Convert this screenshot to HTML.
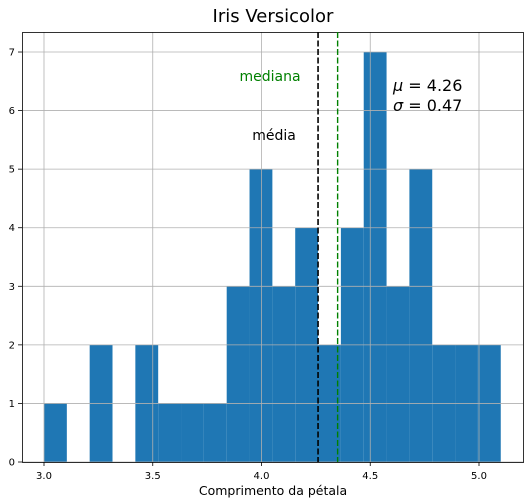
<!DOCTYPE html>
<html><head><meta charset="utf-8">
<style>
body{margin:0;background:#fff;}
svg{display:block;font-family:"DejaVu Sans","Liberation Sans",sans-serif;}
</style></head>
<body>
<svg id="chart" width="531" height="504" viewBox="0 0 531 504">
<text x="273" y="22" font-size="18" text-anchor="middle">Iris Versicolor</text>
<g id="bars"></g>
<g id="grid"></g>
<g id="ticks"></g>
<rect x="22.5" y="32.5" width="501" height="430" fill="none" stroke="#000" stroke-width="0.8"/>
<text x="273" y="495" font-size="12.5" text-anchor="middle">Comprimento da pétala</text>
<text x="270" y="81" font-size="14" fill="green" text-anchor="middle">mediana</text>
<text x="274" y="140" font-size="14" text-anchor="middle">média</text>
<text x="393" y="91" font-size="16"><tspan font-style="italic">μ</tspan> = 4.26</text>
<text x="393" y="111" font-size="16"><tspan font-style="italic">σ</tspan> = 0.47</text>
</svg>
<script>
const binStart = 3.0;
const binEnd = 5.1;
const counts = [1,0,2,0,2,1,1,1,3,5,3,4,2,4,7,3,5,2,2,2];
const xTicks = [3.0,3.5,4.0,4.5,5.0];
const xTickLabels = ["3.0","3.5","4.0","4.5","5.0"];
const yTicks = [0,1,2,3,4,5,6,7];
const meanVal = 4.26;
const medianVal = 4.35;

const NS="http://www.w3.org/2000/svg";
const X = v => 44 + (v-3.0)*217.5;
const Y = v => 462 - v*58.57;
function mk(t,a,p){const e=document.createElementNS(NS,t);for(const k in a)e.setAttribute(k,a[k]);p.appendChild(e);return e;}
const bars=document.getElementById('bars'), grid=document.getElementById('grid'), ticks=document.getElementById('ticks'), svg=document.getElementById('chart');
const w=(binEnd-binStart)/counts.length;
counts.forEach((c,i)=>{
  if(!c) return;
  const x0=X(binStart+i*w), x1=X(binStart+(i+1)*w);
  const r=mk('rect',{x:x0,y:Y(c),width:x1-x0,height:Y(0)-Y(c),fill:'#1f77b4'},bars);
  
  
});
xTicks.forEach((t,i)=>{
  const g=mk('line',{x1:X(t),x2:X(t),y1:32,y2:462,stroke:'#b0b0b0','stroke-width':0.8},grid);
  
  
  mk('line',{x1:X(t),x2:X(t),y1:462,y2:466,stroke:'#000','stroke-width':0.8},ticks);
  const l=mk('text',{x:X(t),y:479,'font-size':10,'text-anchor':'middle'},ticks);
  l.textContent=xTickLabels[i];
  
  
});
yTicks.forEach(t=>{
  const g=mk('line',{x1:22,x2:523,y1:Y(t),y2:Y(t),stroke:'#b0b0b0','stroke-width':0.8},grid);
  
  
  mk('line',{x1:18,x2:22,y1:Y(t),y2:Y(t),stroke:'#000','stroke-width':0.8},ticks);
  const l=mk('text',{x:15,y:Y(t)+3.5,'font-size':10,'text-anchor':'end'},ticks);
  l.textContent=String(t);
  
  
});
const ml=mk('line',{x1:X(meanVal),x2:X(meanVal),y1:32,y2:462,stroke:'#000','stroke-width':1.6,'stroke-dasharray':'6,2.5'},svg);


const md=mk('line',{x1:X(medianVal),x2:X(medianVal),y1:32,y2:462,stroke:'green','stroke-width':1.4,'stroke-dasharray':'6,2.5'},svg);


</script>
</body></html>
